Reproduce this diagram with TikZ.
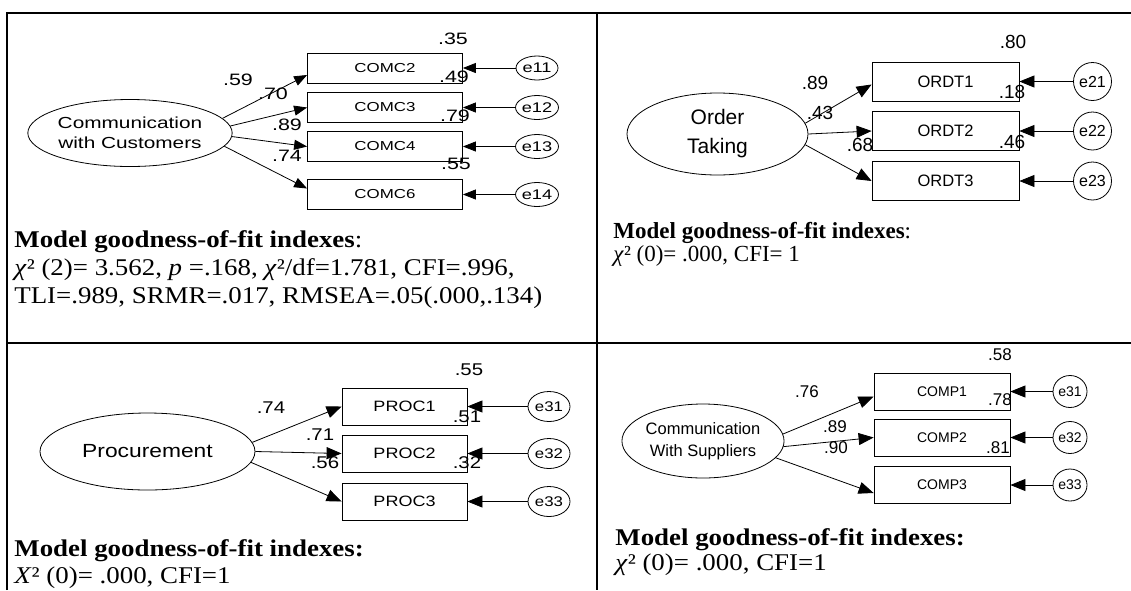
\documentclass[tikz,border=0pt]{standalone}
\usepackage{fontspec}
\setmainfont{Liberation Serif}
\setsansfont{Liberation Sans}
\newfontfamily\widesans[FakeStretch=1.3]{Liberation Sans}
\newfontfamily\semisans[FakeStretch=1.2]{Liberation Sans}
\newfontfamily\widerm[FakeStretch=1.12]{Liberation Serif}
\usetikzlibrary{shapes.geometric,arrows.meta}
\newcommand\setfs[1]{\fontsize{#1}{#1}\selectfont}
\begin{document}
\begin{tikzpicture}[x=1pt,y=-1pt,line width=0.8pt]
  \tikzstyle{latent}=[ellipse,draw,inner sep=0pt,align=center]
  \tikzstyle{item}=[rectangle,draw,inner sep=0pt]
  \tikzstyle{err}=[ellipse,draw,inner sep=0pt]
  \tikzstyle{load}=[-{Triangle[length=13pt,width=10pt]}]
  \tikzstyle{loadbig}=[-{Triangle[length=15pt,width=12pt]}]
  \tikzstyle{coef}=[inner sep=0pt]
  \tikzstyle{fitline}=[inner sep=0pt,anchor=base west]
  \useasboundingbox (0,0) rectangle (1131,590);
  \fill[white] (0,0) rectangle (1131,590);
  \draw[line width=2pt] (7,590) -- (7,13) -- (1131,13) (597,13) -- (597,590) (7,343) -- (1131,343);

  % communication with customers
  \node[latent,minimum width=191pt,minimum height=67pt,font=\widesans\fontsize{16}{20}\selectfont] (cwc) at (130,133) {Communication\\with Customers};
  \foreach \n/\y/\e in {2/68/1,3/107.5/2,4/146.5/3,6/194.5/4}{
    \node[item,minimum width=155pt,minimum height=30pt,font=\widesans\setfs{13}] (comc\n) at (385,\y) {COMC\n};
    \node[err,minimum width=42pt,minimum height=24pt,font=\widesans\setfs{14}] (ce\e) at (537,\y) {e1\e};
    \draw[load] (ce\e) -- (comc\n);
  }
  \foreach \n/\a/\s in {2/9/-7,3/4/0,4/-2/0,6/-8/6}
    \draw[load] (cwc.\a) -- ([yshift=\s pt]comc\n.west);
  \foreach \t/\x/\y [count=\i] in {.35/453/39,.49/454/77,.79/455/116,.55/456/164,.59/238/80,.70/273/94,.89/287/125,.74/287/156}
    \node[coef,font=\widesans\setfs{16.5}] (cc\i) at (\x,\y) {\t};
  \node[fitline,font=\widerm\setfs{24}] (fa1) at (14,247) {\textbf{Model goodness-of-fit indexes}:};
  \node[fitline,font=\widerm\setfs{24}] (fa2) at (14,275) {\textit{χ}² (2)= 3.562, \textit{p} =.168, \textit{χ}²/df=1.781, CFI=.996,};
  \node[fitline,font=\widerm\setfs{24}] (fa3) at (14,303) {TLI=.989, SRMR=.017, RMSEA=.05(.000,.134)};

  % order taking
  \node[latent,minimum width=181pt,minimum height=82pt,font=\sffamily\fontsize{21}{29}\selectfont] (ot) at (717.5,134) {Order\\Taking};
  \foreach \n/\y in {1/81.5,2/131,3/181}{
    \node[item,minimum width=147pt,minimum height=39pt,font=\sffamily\setfs{16.5}] (ordt\n) at (945.5,\y) {ORDT\n};
    \node[err,minimum size=38pt,font=\sffamily\setfs{16}] (oe\n) at (1092.5,\y) {e2\n};
    \draw[loadbig] (oe\n) -- (ordt\n);
  }
  \foreach \n/\a/\s in {1/7/-3,2/0/0,3/-7/0}
    \draw[loadbig] (ot.\a) -- ([yshift=\s pt]ordt\n.west);
  \foreach \t/\x/\y [count=\i] in {.80/1013/42,.18/1012/92,.46/1012/142,.89/815/83,.43/820/113,.68/860/145}
    \node[coef,font=\sffamily\setfs{19}] (oc\i) at (\x,\y) {\t};
  \node[fitline,font=\setfs{23}] (fb1) at (613,238) {\textbf{Model goodness-of-fit indexes}:};
  \node[fitline,font=\setfs{23}] (fb2) at (613,261) {\textit{χ}² (0)= .000, CFI= 1};

  % procurement
  \node[latent,minimum width=215pt,minimum height=77pt,font=\semisans\setfs{19}] (proc) at (147.5,451.5) {Procurement};
  \foreach \n/\y in {1/406.5,2/453.5,3/501.5}{
    \node[item,minimum width=125pt,minimum height=37pt,font=\semisans\setfs{15}] (proc\n) at (404.5,\y) {PROC\n};
    \node[err,minimum width=42pt,minimum height=30pt,font=\semisans\setfs{14}] (pe\n) at (549,\y) {e3\n};
    \draw[loadbig] (pe\n) -- (proc\n);
  }
  \foreach \n/\a in {1/5,2/0,3/-6}
    \draw[loadbig] (proc.\a) -- (proc\n.west);
  \foreach \t/\x/\y [count=\i] in {.55/469/370,.74/271/408,.71/320/435,.56/325/463,.51/467/417,.32/467/463}
    \node[coef,font=\semisans\setfs{17}] (pc\i) at (\x,\y) {\t};
  \node[fitline,font=\widerm\setfs{24}] (fc1) at (14,556) {\textbf{Model goodness-of-fit indexes:}};
  \node[fitline,font=\widerm\setfs{24}] (fc2) at (14,583) {\textit{X}² (0)= .000, CFI=1};

  % communication with suppliers
  \node[latent,minimum width=153pt,minimum height=74pt,font=\sffamily\fontsize{16.5}{22}\selectfont] (cws) at (703,441) {Communication\\With Suppliers};
  \foreach \n/\y in {1/391.5,2/437.5,3/485}{
    \node[item,minimum width=136pt,minimum height=37pt,font=\sffamily\setfs{14}] (comp\n) at (942,\y) {COMP\n};
    \node[err,minimum width=34pt,minimum height=32pt,font=\sffamily\setfs{14}] (se\n) at (1070,\y) {e3\n};
    \draw[loadbig] (se\n) -- (comp\n);
  }
  \foreach \n/\a/\s in {1/5/-5,2/-4/0,3/-13/-8}
    \draw[loadbig] (cws.\a) -- ([yshift=\s pt]comp\n.west);
  \foreach \t/\x/\y [count=\i] in {.58/1000/355,.78/1000/400,.81/998/448,.76/807/392,.89/835/427,.90/836/448}
    \node[coef,font=\sffamily\setfs{17}] (sc\i) at (\x,\y) {\t};
  \node[fitline,font=\widerm\setfs{24}] (fd1) at (615,545) {\textbf{Model goodness-of-fit indexes:}};
  \node[fitline,font=\widerm\setfs{24}] (fd2) at (615,570) {\textit{χ}² (0)= .000, CFI=1};
\end{tikzpicture}
\end{document}
